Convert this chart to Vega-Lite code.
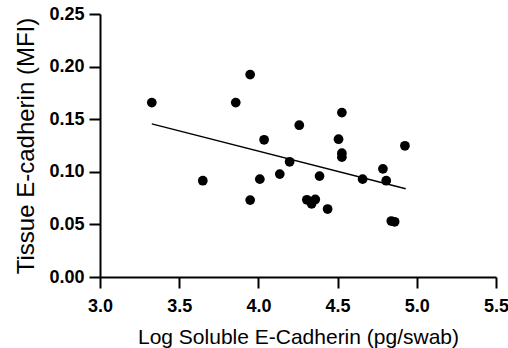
{
  "$schema": "https://vega.github.io/schema/vega-lite/v6.json",
  "width": 396,
  "height": 263,
  "autosize": {"type": "none"},
  "padding": {"left": 100, "top": 14, "right": 12, "bottom": 71},
  "background": "white",
  "config": {
    "view": {"stroke": null},
    "font": "Liberation Sans",
    "axis": {
      "domainColor": "black", "domainWidth": 2, "tickColor": "black", "tickWidth": 2, "tickSize": 11,
      "labelFont": "Liberation Sans", "labelFontWeight": "bold", "labelFontSize": 18, "labelColor": "black",
      "titleFont": "Liberation Sans", "titleFontWeight": "normal", "titleColor": "black",
      "grid": false, "labelFlush": false
    }
  },
  "datasets": {
    "points": [
      {"x": 3.327, "y": 0.1658}, {"x": 3.649, "y": 0.0915}, {"x": 3.857, "y": 0.1658}, {"x": 3.948, "y": 0.1924},
      {"x": 3.948, "y": 0.0731}, {"x": 4.009, "y": 0.0930}, {"x": 4.036, "y": 0.1304}, {"x": 4.135, "y": 0.0978},
      {"x": 4.197, "y": 0.1095}, {"x": 4.258, "y": 0.1443}, {"x": 4.306, "y": 0.0734}, {"x": 4.336, "y": 0.0696},
      {"x": 4.359, "y": 0.0737}, {"x": 4.386, "y": 0.0959}, {"x": 4.437, "y": 0.0646}, {"x": 4.506, "y": 0.1310},
      {"x": 4.527, "y": 0.1563}, {"x": 4.527, "y": 0.1177}, {"x": 4.527, "y": 0.1139}, {"x": 4.658, "y": 0.0930},
      {"x": 4.786, "y": 0.1028}, {"x": 4.807, "y": 0.0915}, {"x": 4.839, "y": 0.0532}, {"x": 4.860, "y": 0.0525},
      {"x": 4.925, "y": 0.1247}
    ],
    "fit": [
      {"x": 3.327, "y": 0.1456}, {"x": 4.930, "y": 0.0839}
    ]
  },
  "layer": [
    {
      "data": {"name": "fit"},
      "mark": {"type": "line", "color": "black", "strokeWidth": 1.4},
      "encoding": {
        "x": {"field": "x", "type": "quantitative", "scale": {"domain": [3, 5.5], "nice": false, "zero": false},
              "axis": {"values": [3, 3.5, 4, 4.5, 5, 5.5], "format": ".1f", "title": "Log Soluble E-Cadherin (pg/swab)",
                       "labelPadding": 9, "titleFontSize": 21, "titlePadding": 11}},
        "y": {"field": "y", "type": "quantitative", "scale": {"domain": [0, 0.25], "nice": false},
              "axis": {"values": [0, 0.05, 0.1, 0.15, 0.2, 0.25], "format": ".2f", "title": "Tissue E-cadherin (MFI)",
                       "labelPadding": 5, "titleFontSize": 24, "titlePadding": 10}}
      }
    },
    {
      "data": {"name": "points"},
      "mark": {"type": "circle", "color": "black", "opacity": 1, "size": 95},
      "encoding": {
        "x": {"field": "x", "type": "quantitative"},
        "y": {"field": "y", "type": "quantitative"}
      }
    }
  ]
}
